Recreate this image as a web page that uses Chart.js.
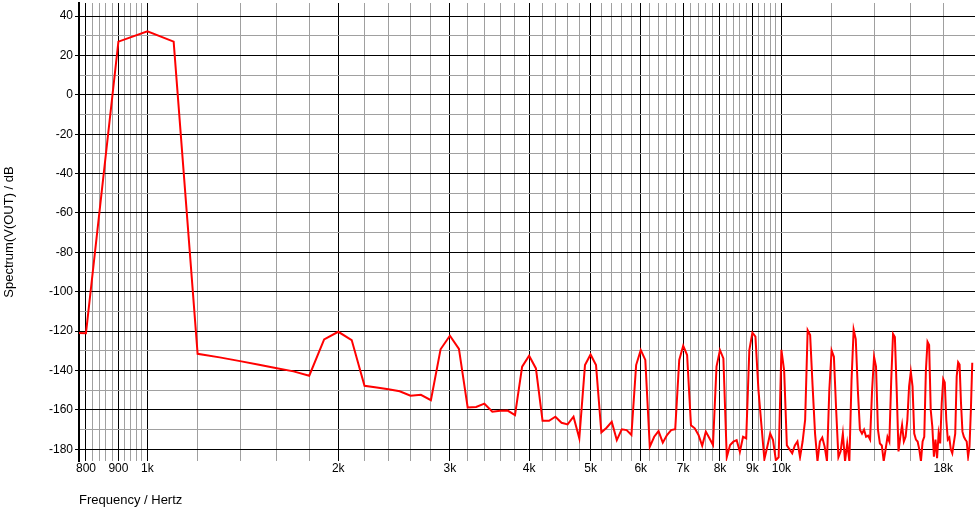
<!DOCTYPE html>
<html>
<head>
<meta charset="utf-8">
<script src="https://cdn.jsdelivr.net/npm/chart.js@4/dist/chart.umd.min.js"></script>
<style>
    html, body { margin: 0; padding: 0; background: #fff; }
    canvas { display: block; }
</style>
</head>
<body>
<canvas id="chart" width="975" height="509"></canvas>
<script>
// FFT bins, 100 Hz apart
const freqHz = [
    700, 800, 900,
    1000, 1100, 1200, 1300, 1400, 1500, 1600, 1700, 1800, 1900,
    2000, 2100, 2200, 2300, 2400, 2500, 2600, 2700, 2800, 2900,
    3000, 3100, 3200, 3300, 3400, 3500, 3600, 3700, 3800, 3900,
    4000, 4100, 4200, 4300, 4400, 4500, 4600, 4700, 4800, 4900,
    5000, 5100, 5200, 5300, 5400, 5500, 5600, 5700, 5800, 5900,
    6000, 6100, 6200, 6300, 6400, 6500, 6600, 6700, 6800, 6900,
    7000, 7100, 7200, 7300, 7400, 7500, 7600, 7700, 7800, 7900,
    8000, 8100, 8200, 8300, 8400, 8500, 8600, 8700, 8800, 8900,
    9000, 9100, 9200, 9300, 9400, 9500, 9600, 9700, 9800, 9900,
    10000, 10100, 10200, 10300, 10400, 10500, 10600, 10700, 10800, 10900,
    11000, 11100, 11200, 11300, 11400, 11500, 11600, 11700, 11800, 11900,
    12000, 12100, 12200, 12300, 12400, 12500, 12600, 12700, 12800, 12900,
    13000, 13100, 13200, 13300, 13400, 13500, 13600, 13700, 13800, 13900,
    14000, 14100, 14200, 14300, 14400, 14500, 14600, 14700, 14800, 14900,
    15000, 15100, 15200, 15300, 15400, 15500, 15600, 15700, 15800, 15900,
    16000, 16100, 16200, 16300, 16400, 16500, 16600, 16700, 16800, 16900,
    17000, 17100, 17200, 17300, 17400, 17500, 17600, 17700, 17800, 17900,
    18000, 18100, 18200, 18300, 18400, 18500, 18600, 18700, 18800, 18900,
    19000, 19100, 19200, 19300, 19400, 19500, 19600, 19700, 19800, 19900,
    20000
]

// Spectrum(V(OUT)) in dB, same order as freqHz
const levelDb = [
    -120.5, -121, 27,
    32.2, 27, -131.5, -133.3, -135.2, -137, -138.8, -140.4, -142.6, -124.2,
    -120.3, -124.5, -147.7, -148.6, -149.5, -150.5, -152.8, -152.3, -155, -129.2,
    -122.3, -129, -158.7, -158.5, -156.8, -160.9, -160.4, -160.3, -162.6, -138,
    -132.5, -138.9, -165.5, -165.5, -163.4, -166.5, -167.3, -163.4, -174.4, -137.2,
    -131.8, -137.2, -171.4, -169, -166, -175.3, -169.8, -170.2, -172.7, -137.2,
    -129.6, -134.6, -178.7, -173.6, -170.7, -176.6, -172.7, -170.2, -169.8, -134.6,
    -127.4, -132.1, -167.7, -169.3, -172.7, -178.2, -171, -174.4, -177.8, -138,
    -129.6, -133.8, -184, -177.8, -176.1, -175.3, -181.2, -173.6, -174.4, -129.6,
    -120.8, -122.8, -149.9, -167.7, -185, -178.7, -171.9, -175.3, -185.5, -184,
    -129.5, -140, -178, -180, -182, -178, -176, -184, -176, -165,
    -119.5, -122, -148, -172, -186, -176, -174, -178.6, -186, -150,
    -129.8, -133, -160, -184, -181, -172, -186, -177, -186, -145,
    -119.2, -124, -150, -170, -172, -170, -173.6, -173, -175, -150,
    -133, -138, -170, -177, -178, -186, -180, -173.6, -176, -145,
    -121.4, -123, -150, -181, -173.6, -167.6, -176, -173.6, -165, -148,
    -140.6, -148, -172, -175, -176, -180, -186, -176, -173.6, -140,
    -125.4, -127, -160, -168.5, -183.7, -175, -184.5, -172, -177, -156.7,
    -144.3, -146, -165, -175, -174, -180, -182, -177, -172, -143,
    -135.8, -137, -156.7, -171, -173.6, -175, -176, -183.7, -178.6, -160,
    -136
]

const xMajor = [800, 900, 1000, 2000, 3000, 4000, 5000, 6000, 7000, 8000, 9000, 10000]
const xMinor = [
    820, 840, 860, 880, 920, 940, 960, 980,
    1200, 1400, 1600, 1800, 2200, 2400, 2600, 2800, 3200, 3400, 3600, 3800,
    4200, 4400, 4600, 4800, 5200, 5400, 5600, 5800, 6200, 6400, 6600, 6800,
    7200, 7400, 7600, 7800, 8200, 8400, 8600, 8800, 9200, 9400, 9600, 9800,
    12000, 14000, 16000, 18000
]
const xLabelValues = [800, 900, 1000, 2000, 3000, 4000, 5000, 6000, 7000, 8000, 9000, 10000, 18000]
const xLabelTexts = ['800', '900', '1k', '2k', '3k', '4k', '5k', '6k', '7k', '8k', '9k', '10k', '18k']

const yTicks = [-180, -170, -160, -150, -140, -130, -120, -110, -100, -90, -80, -70, -60, -50, -40, -30, -20, -10, 0, 10, 20, 30, 40]
const yLabeled = [-180, -160, -140, -120, -100, -80, -60, -40, -20, 0, 20, 40]

const BLACK = '#000000'
const GREY = '#a0a0a0'
const FONT = '"Liberation Sans", Arial, sans-serif'

Chart.defaults.font.family = FONT
Chart.defaults.font.size = 12
Chart.defaults.color = BLACK

const xTicks = [...xMajor, ...xMinor].sort((a, b) => a - b)
const points = freqHz.map((f, i) => ({ x: f, y: levelDb[i] }))

new Chart(document.getElementById('chart'), {
    type: 'line',
    data: {
        datasets: [{
            data: points,
            borderColor: '#ff0000',
            borderWidth: 2,
            pointRadius: 0,
            tension: 0,
        }]
    },
    options: {
        responsive: false,
        animation: false,
        events: [],
        layout: { padding: { top: 3, left: 0, right: 0, bottom: 0 } },
        plugins: {
            legend: { display: false },
            tooltip: { enabled: false },
        },
        scales: {
            x: {
                type: 'logarithmic',
                min: 780,
                max: 20200,
                afterBuildTicks(scale) {
                    scale.ticks = xTicks.map(value => ({ value }))
                },
                afterFit(scale) {
                    scale.height = 48
                    scale.paddingLeft = 0
                    scale.paddingRight = 0
                },
                ticks: {
                    autoSkip: false,
                    maxRotation: 0,
                    padding: 0,
                    callback(value) {
                        const i = xLabelValues.indexOf(value)
                        return i >= 0 ? xLabelTexts[i] : ''
                    },
                },
                grid: {
                    drawTicks: false,
                    color: ctx => xMajor.includes(ctx.tick && ctx.tick.value) ? BLACK : GREY,
                },
                border: { display: false },
                title: {
                    display: true,
                    text: 'Frequency / Hertz',
                    align: 'start',
                    font: { size: 13 },
                    padding: { top: 0, bottom: 1 },
                },
            },
            y: {
                type: 'linear',
                min: -185.9,
                max: 46.6,
                afterBuildTicks(scale) {
                    scale.ticks = yTicks.map(value => ({ value }))
                },
                afterFit(scale) {
                    // the label "40" sits well inside the plot, no extra room needed
                    scale.width = 79
                    scale.paddingTop = 0
                    scale.paddingBottom = 0
                },
                ticks: {
                    autoSkip: false,
                    padding: 2,
                    callback: value => yLabeled.includes(value) ? String(value) : '',
                },
                grid: {
                    tickLength: 4,
                    color: ctx => yLabeled.includes(ctx.tick && ctx.tick.value) ? BLACK : GREY,
                    tickColor: ctx => yLabeled.includes(ctx.tick && ctx.tick.value) ? BLACK : 'rgba(0,0,0,0)',
                },
                border: { display: true, color: BLACK, width: 2 },
                title: {
                    display: true,
                    text: 'Spectrum(V(OUT) / dB',
                    font: { size: 13 },
                    padding: { top: 2, bottom: 0 },
                },
            },
        },
    },
})
</script>
</body>
</html>
